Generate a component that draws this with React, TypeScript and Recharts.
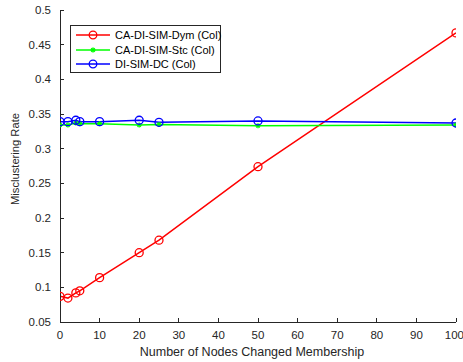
import React from 'react';
import { LineChart, Line, XAxis, YAxis, Legend, Label } from 'recharts';

const nodesChanged = [0, 2, 4, 5, 10, 20, 25, 50, 100];
const caDiSimDym = [0.087, 0.0845, 0.092, 0.095, 0.114, 0.15, 0.168, 0.274, 0.467];
const caDiSimStc = [0.334, 0.334, 0.337, 0.336, 0.336, 0.334, 0.335, 0.333, 0.334];
const diSimDc = [0.339, 0.339, 0.341, 0.339, 0.339, 0.341, 0.338, 0.340, 0.337];

const xTicks = [0, 10, 20, 30, 40, 50, 60, 70, 80, 90, 100];
const yTicks = [0.05, 0.1, 0.15, 0.2, 0.25, 0.3, 0.35, 0.4, 0.45, 0.5];

const seriesNames = ['CA-DI-SIM-Dym (Col)', 'CA-DI-SIM-Stc (Col)', 'DI-SIM-DC (Col)'];
const seriesColors = ['#ff0000', '#00ff00', '#0000ff'];

const data = nodesChanged.map((x, i) => ({
  x,
  dym: caDiSimDym[i],
  stc: caDiSimStc[i],
  dc: diSimDc[i],
}));

const AXIS = '#262626';
const FONT = 'Liberation Sans, Arial, Helvetica, sans-serif';
const crisp = { stroke: AXIS, shapeRendering: 'crispEdges' } as any;

const Circle = (color: string) => (props: any) => {
  const { cx, cy, index } = props;
  if (cx == null || cy == null) return <g key={index} />;
  return <circle key={index} cx={cx} cy={cy} r={4} fill="none" stroke={color} strokeWidth={1.3} />;
};

const Star = (color: string) => (props: any) => {
  const { cx, cy, index } = props;
  if (cx == null || cy == null) return <g key={index} />;
  const r = 2.5;
  return (
    <g key={index} stroke={color} strokeWidth={1.3}>
      <line x1={cx - r} y1={cy} x2={cx + r} y2={cy} />
      <line x1={cx} y1={cy - r} x2={cx} y2={cy + r} />
      <line x1={cx - r * 0.7} y1={cy - r * 0.7} x2={cx + r * 0.7} y2={cy + r * 0.7} />
      <line x1={cx - r * 0.7} y1={cy + r * 0.7} x2={cx + r * 0.7} y2={cy - r * 0.7} />
    </g>
  );
};

const fmt = (v: number) => String(Number(v.toFixed(2)));

const LegendBox = () => (
  <div
    style={{
      width: 151,
      height: 48,
      border: `1px solid ${AXIS}`,
      background: '#fff',
      fontFamily: FONT,
      fontSize: 11,
      lineHeight: '14.5px',
      color: '#000',
      boxSizing: 'border-box',
      paddingTop: 2,
    }}
  >
    {seriesNames.map((name, i) => (
      <div key={name} style={{ display: 'flex', alignItems: 'center', height: 14.5 }}>
        <svg width={40} height={12} style={{ marginLeft: 3, flex: 'none' }}>
          <line x1={2} y1={6} x2={36} y2={6} stroke={seriesColors[i]} strokeWidth={1.5} />
          {i === 1 ? (
            <g stroke={seriesColors[i]} strokeWidth={1.5}>
              <line x1={16.5} y1={6} x2={21.5} y2={6} />
              <line x1={19} y1={3.5} x2={19} y2={8.5} />
              <line x1={17.2} y1={4.2} x2={20.8} y2={7.8} />
              <line x1={17.2} y1={7.8} x2={20.8} y2={4.2} />
            </g>
          ) : (
            <circle cx={19} cy={6} r={3.8} fill="none" stroke={seriesColors[i]} strokeWidth={1.3} />
          )}
        </svg>
        <span style={{ marginLeft: 1, whiteSpace: 'nowrap' }}>{name}</span>
      </div>
    ))}
  </div>
);

export default function App() {
  return (
    <div style={{ position: 'absolute', left: 0, top: 0, width: 463, height: 362, background: '#fff' }}>
      <LineChart width={463} height={362} data={data} margin={{ top: 10, right: 7, bottom: 0, left: 0 }}>
        <XAxis
          xAxisId="b"
          dataKey="x"
          type="number"
          domain={[0, 100]}
          ticks={xTicks}
          height={40}
          stroke={AXIS}
          axisLine={crisp}
          tickLine={crisp}
          tickSize={-4}
          tickMargin={13}
          tick={{ fill: AXIS, fontSize: 11.5, fontFamily: FONT }}
          allowDataOverflow
        >
          <Label
            value="Number of Nodes Changed Membership"
            content={() => (
              <text x={252} y={356} textAnchor="middle" fill={AXIS} fontSize={12.5} fontFamily={FONT}>
                Number of Nodes Changed Membership
              </text>
            )}
          />
        </XAxis>
        <XAxis
          xAxisId="t"
          dataKey="x"
          type="number"
          orientation="top"
          domain={[0, 100]}
          ticks={xTicks}
          height={0}
          stroke={AXIS}
          axisLine={crisp}
          tickLine={crisp}
          tickSize={-4}
          tick={false}
        />
        <YAxis
          yAxisId="l"
          type="number"
          domain={[0.05, 0.5]}
          ticks={yTicks}
          width={60}
          stroke={AXIS}
          axisLine={crisp}
          tickLine={crisp}
          tickSize={-4}
          tickMargin={13}
          tickFormatter={fmt}
          tick={{ fill: AXIS, fontSize: 11.5, fontFamily: FONT }}
          allowDataOverflow
        >
          <Label
            value="Misclustering Rate"
            content={() => (
              <text
                x={19}
                y={159}
                transform="rotate(-90 19 159)"
                textAnchor="middle"
                fill={AXIS}
                fontSize={11.2}
                fontFamily={FONT}
              >
                Misclustering Rate
              </text>
            )}
          />
        </YAxis>
        <YAxis
          yAxisId="r"
          type="number"
          orientation="right"
          domain={[0.05, 0.5]}
          ticks={yTicks}
          width={0}
          stroke={AXIS}
          axisLine={crisp}
          tickLine={crisp}
          tickSize={-4}
          tick={false}
        />
        <Legend
          layout="vertical"
          verticalAlign="middle"
          align="center"
          wrapperStyle={{ left: 70, top: 25, width: 'auto', height: 'auto' }}
          content={() => <LegendBox />}
        />
        <Line
          xAxisId="b"
          yAxisId="l"
          dataKey="dym"
          name={seriesNames[0]}
          stroke={seriesColors[0]}
          strokeWidth={1.5}
          dot={Circle(seriesColors[0])}
          isAnimationActive={false}
        />
        <Line
          xAxisId="b"
          yAxisId="l"
          dataKey="stc"
          name={seriesNames[1]}
          stroke={seriesColors[1]}
          strokeWidth={1.5}
          dot={Star(seriesColors[1])}
          isAnimationActive={false}
        />
        <Line
          xAxisId="b"
          yAxisId="l"
          dataKey="dc"
          name={seriesNames[2]}
          stroke={seriesColors[2]}
          strokeWidth={1.5}
          dot={Circle(seriesColors[2])}
          isAnimationActive={false}
        />
      </LineChart>
    </div>
  );
}
